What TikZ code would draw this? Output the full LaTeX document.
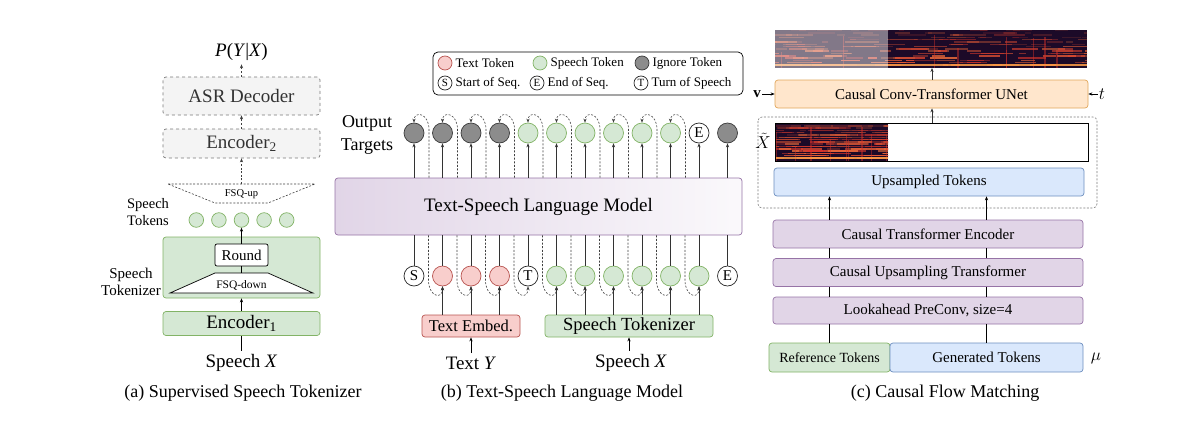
\documentclass[tikz,border=0pt]{standalone}
\usepackage{fontspec}
\setmainfont{Liberation Serif}
\usetikzlibrary{arrows.meta,calc}

\definecolor{grnF}{HTML}{D5E8D4}
\definecolor{grnD}{HTML}{82B366}
\definecolor{redF}{HTML}{F8CECC}
\definecolor{redD}{HTML}{B85450}
\definecolor{bluF}{HTML}{DAE8FC}
\definecolor{bluD}{HTML}{6C8EBF}
\definecolor{purF}{HTML}{E1D5E7}
\definecolor{purD}{HTML}{9673A6}
\definecolor{orgF}{HTML}{FFE6CC}
\definecolor{orgD}{HTML}{E0A65A}
\definecolor{ignF}{HTML}{8C8C8C}
\definecolor{ignD}{HTML}{3A3A3A}
\definecolor{dimF}{HTML}{F4F4F4}
\definecolor{dimD}{HTML}{7A7A7A}
\definecolor{specBg}{HTML}{1C0A28}
\definecolor{specHi}{HTML}{D8302A}
\definecolor{specLo}{HTML}{FFA048}

\newcommand{\fsz}[1]{\fontsize{#1}{#1}\selectfont}

% fake spectrogram: x0, y0, x1, y1
\newcommand{\spectro}[4]{%
  \begin{scope}
    \clip (#1,#2) rectangle (#3,#4);
    \fill[specBg] (#1,#2) rectangle (#3,#4);
    \foreach \row in {0,...,15} {
      \foreach \seg in {1,...,11} {
        \pgfmathsetmacro{\segx}{#1-10+rnd*(#3-#1+10)}
        \pgfmathsetmacro{\segw}{5+rnd*30}
        \pgfmathsetmacro{\segop}{(1-\row*0.05)*(0.35+0.65*rnd)}
        \pgfmathtruncatemacro{\segmix}{40+60*rnd}
        \draw[specHi!\segmix!specLo, line width=1.5pt, opacity=\segop] (\segx,#4-3-\row*2.3) -- ++(\segw,0);
      }
    }
    \foreach \seg in {1,...,9} {
      \pgfmathsetmacro{\segx}{#1+rnd*(#3-#1)}
      \draw[specHi, line width=1.2pt, opacity=.45] (\segx,#4) -- ++(0,{-(#4-#2)*(0.4+0.5*rnd)});
    }
    \fill[specLo, opacity=.85] (#1,#4-4) rectangle (#3,#4-2.3);
  \end{scope}}

\tikzset{x=1pt, y=-1pt,
  box/.style={draw, rounded corners=3pt, inner sep=0pt, line width=0.7pt},
  dimbox/.style={box, dashed, fill=dimF, draw=dimD, text=black!80, minimum width=157pt, font=\fsz{19}},
  grnbox/.style={box, fill=grnF, draw=grnD},
  redbox/.style={box, fill=redF, draw=redD},
  blubox/.style={box, fill=bluF, draw=bluD},
  purbox/.style={box, fill=purF, draw=purD, minimum width=310pt, minimum height=28pt, font=\fsz{15}},
  orgbox/.style={box, fill=orgF, draw=orgD},
  tok/.style={circle, draw, minimum size=20pt, inner sep=0pt, line width=0.7pt, font=\fsz{15}},
  ign/.style={tok, fill=ignF, draw=ignD},
  sp/.style={tok, fill=grnF, draw=grnD},
  tx/.style={tok, fill=redF, draw=redD},
  mk/.style={tok, fill=white, draw=black!85},
  lg/.style={minimum size=14pt, font=\fsz{11}},
  arr/.style={-{Stealth[length=4pt, width=3.2pt]}},
  dsh/.style={dash pattern=on 2pt off 1.6pt},
  capt/.style={font=\fsz{18}}
}

\begin{document}
\begin{tikzpicture}[line width=0.6pt]
  \useasboundingbox (0,0) rectangle (1197,421);
  \pgfmathsetseed{42}

  % (a) supervised speech tokenizer
  \node (pyx) [font=\fsz{19}] at (241.5,52) {\textit{P}(\textit{Y}|\textit{X})};
  \node (asr) [dimbox, minimum height=38pt] at (241.5,96) {ASR Decoder};
  \node (enc2) [dimbox, minimum height=29pt] at (241.5,143.5) {Encoder\textsubscript{2}};
  \draw[dsh, black!75] (168,184) coordinate (upL) -- (315,184) coordinate (upR)
    -- (268,203) -- (215,203) -- cycle;
  \coordinate (upTop) at ($(upL)!.5!(upR)$);
  \node (fsqup) [font=\fsz{10.5}] at (241.5,194) {FSQ-up};
  \draw[arr, dsh, black!75] (asr.north) -- (pyx.south);
  \draw[arr, dsh, black!75] (enc2.north) -- (asr.south);
  \draw[arr, dsh, black!75] (upTop) -- (enc2.south);
  \foreach \i in {0,...,4}
    \node (st\i) [sp, minimum size=14.6pt] at ({241.5+22.6*(\i-2)},220) {};
  \node (stlab) [font=\fontsize{14.5}{17}\selectfont, align=center] at (148,212) {Speech\\Tokens};

  \node (tkz) [grnbox, minimum width=157pt, minimum height=61pt] at (241.5,267.5) {};
  \node (round) [box, fill=white, rounded corners=2pt, minimum width=53pt, minimum height=22pt, font=\fsz{15}] at (241.5,255) {Round};
  \draw[fill=white, line width=0.7pt] (215,273) coordinate (dnTop) -- (268,273) -- (313,293) -- (170,293) -- cycle;
  \node (fsqdn) [font=\fsz{11.5}] at (241.5,285) {FSQ-down};
  \draw (round.south) -- (dnTop -| round);
  \draw[arr] (round.north) -- (st2.south);
  \node (tkzlab) [font=\fontsize{15}{17}\selectfont, align=center] at (131,282) {Speech\\Tokenizer};

  \node (enc1) [grnbox, minimum width=157pt, minimum height=24pt, font=\fsz{19}] at (241.5,323.5) {Encoder\textsubscript{1}};
  \draw[arr] (enc1.north) -- (tkz.south);
  \node (spxa) [font=\fsz{19}] at (241.5,363) {Speech \textit{X}};
  \draw (spxa.north) -- (enc1.south);
  \node (capA) [capt] at (243,393) {(a) Supervised Speech Tokenizer};

  % (b) text-speech language model
  \node (legend) [draw, rounded corners=5pt, line width=0.7pt, minimum width=310pt, minimum height=43pt] at (588,73.5) {};
  \foreach \st/\lab/\txt/\x/\y [count=\k] in {tx/{}/Text Token/445/63, sp/{}/Speech Token/540/63,
      ign/{}/Ignore Token/642/63, mk/S/Start of Seq./445/83, mk/E/End of Seq./537/83, mk/T/Turn of Speech/641/83} {
    \node (lg\k) [\st, lg] at (\x,\y) {\lab};
    \node (lgt\k) [anchor=west, inner sep=0pt, font=\fsz{13}] at ($(lg\k.east)+(3,0)$) {\txt};
  }

  \node (outlab) [font=\fontsize{18}{23}\selectfont, align=center] at (367,134.5) {Output\\Targets};
  \node (lm) [box, draw=purD, left color=purF, right color=purF!15, minimum width=407pt, minimum height=57pt, font=\fsz{19}] at (538.5,206.5) {Text-Speech Language Model};

  \foreach \st/\lab [count=\i from 0] in {ign/{},ign/{},ign/{},ign/{},sp/{},sp/{},sp/{},sp/{},sp/{},sp/{},mk/E,ign/{}} {
    \node (o\i) [\st] at ({414+28.5*\i},133) {\lab};
    \draw[arr, black!80] (lm.north -| o\i) -- (o\i.south);
  }
  \foreach \i in {0,...,9}
    \draw[arr, dsh, black!75] ($(lm.north -| o\i)+(15,0)$) -- ++(0,-48) .. controls +(0,-17) and +(0,-12) .. (o\i.north);

  \foreach \st/\lab [count=\i from 0] in {mk/S,tx/{},tx/{},tx/{},mk/T,sp/{},sp/{},sp/{},sp/{},sp/{},sp/{},mk/E} {
    \node (in\i) [\st] at ({414+28.5*\i},276) {\lab};
    \draw[black!80] (in\i.north) -- (lm.south -| in\i);
  }
  \foreach \i in {1,...,10}
    \draw[arr, dsh, black!75] ($(lm.south -| in\i)+(-14,0)$) -- ++(0,45) .. controls +(0,16) and +(0,14) .. (in\i.south);

  \node (temb) [redbox, minimum width=98pt, minimum height=22pt, font=\fsz{16.5}] at (471,326) {Text Embed.};
  \node (stok) [grnbox, minimum width=168pt, minimum height=22pt, font=\fsz{18.5}] at (629,326) {Speech Tokenizer};
  \foreach \i in {1,2,3}
    \draw[arr, black!80] (temb.north -| in\i) -- (in\i.south);
  \foreach \i in {5,...,10}
    \draw[arr, black!80] (stok.north -| in\i) -- (in\i.south);
  \node (ty) [font=\fsz{19}] at (471,363) {Text \textit{Y}};
  \node (spxb) [font=\fsz{19}] at (631,363) {Speech \textit{X}};
  \draw[arr] (ty.north) -- (temb.south);
  \draw[arr] (spxb.north -| stok) -- (stok.south);
  \node (capB) [capt] at (562,393) {(b) Text-Speech Language Model};

  % (c) causal flow matching
  \spectro{775}{30}{1087}{68}
  \fill[white, opacity=.45] (775,30) rectangle (888,68);
  \coordinate (specB) at (932,68);
  \node (unet) [orgbox, minimum width=313pt, minimum height=28pt, font=\fsz{15}] at (931.5,94) {Causal Conv-Transformer UNet};
  \node (vv) [inner sep=1pt, font=\fsz{15}] at (757,94) {$\mathbf{v}$};
  \node (tt) [inner sep=1pt, font=\fsz{16}] at (1102,94) {$t$};
  \draw[arr] (vv) -- (unet);
  \draw[arr] (tt) -- (unet);
  \draw[dsh, dimD, rounded corners=4pt] (758,117) rectangle (1097,208);
  \spectro{775}{123}{888}{161}
  \draw[line width=0.7pt] (775,123) rectangle (1088,161);
  \coordinate (xtTop) at (932,123);
  \node (xtl) [inner sep=0pt, font=\fsz{16}] at (763,141) {$\tilde{X}$};
  \draw[arr, black!80] (xtTop) -- (unet.south -| xtTop);
  \draw[arr, black!80] (unet.north -| specB) -- (specB);

  \node (ups) [blubox, minimum width=310pt, minimum height=28pt, font=\fsz{15}] at (929,182) {Upsampled Tokens};
  \node (cte) [purbox] at (928,234) {Causal Transformer Encoder};
  \node (cut) [purbox] at (928,272.5) {Causal Upsampling Transformer};
  \node (lpc) [purbox, minimum height=27pt] at (928,310.5) {Lookahead PreConv, size=4};
  \node (ref) [grnbox, minimum width=121pt, minimum height=29pt, font=\fsz{14}] at (829.5,357.5) {Reference Tokens};
  \node (gen) [blubox, minimum width=193pt, minimum height=29pt, font=\fsz{15}] at (986.5,357.5) {Generated Tokens};
  \node (mu) [font=\fsz{16}] at (1096,358) {$\mu$};
  \foreach \a in {ref,gen} {
    \draw (\a.north) -- (lpc.south -| \a);
    \draw (lpc.north -| \a) -- (cut.south -| \a);
    \draw (cut.north -| \a) -- (cte.south -| \a);
    \draw[arr] (cte.north -| \a) -- (ups.south -| \a);
  }
  \node (capC) [capt] at (945,393) {(c) Causal Flow Matching};
\end{tikzpicture}
\end{document}
